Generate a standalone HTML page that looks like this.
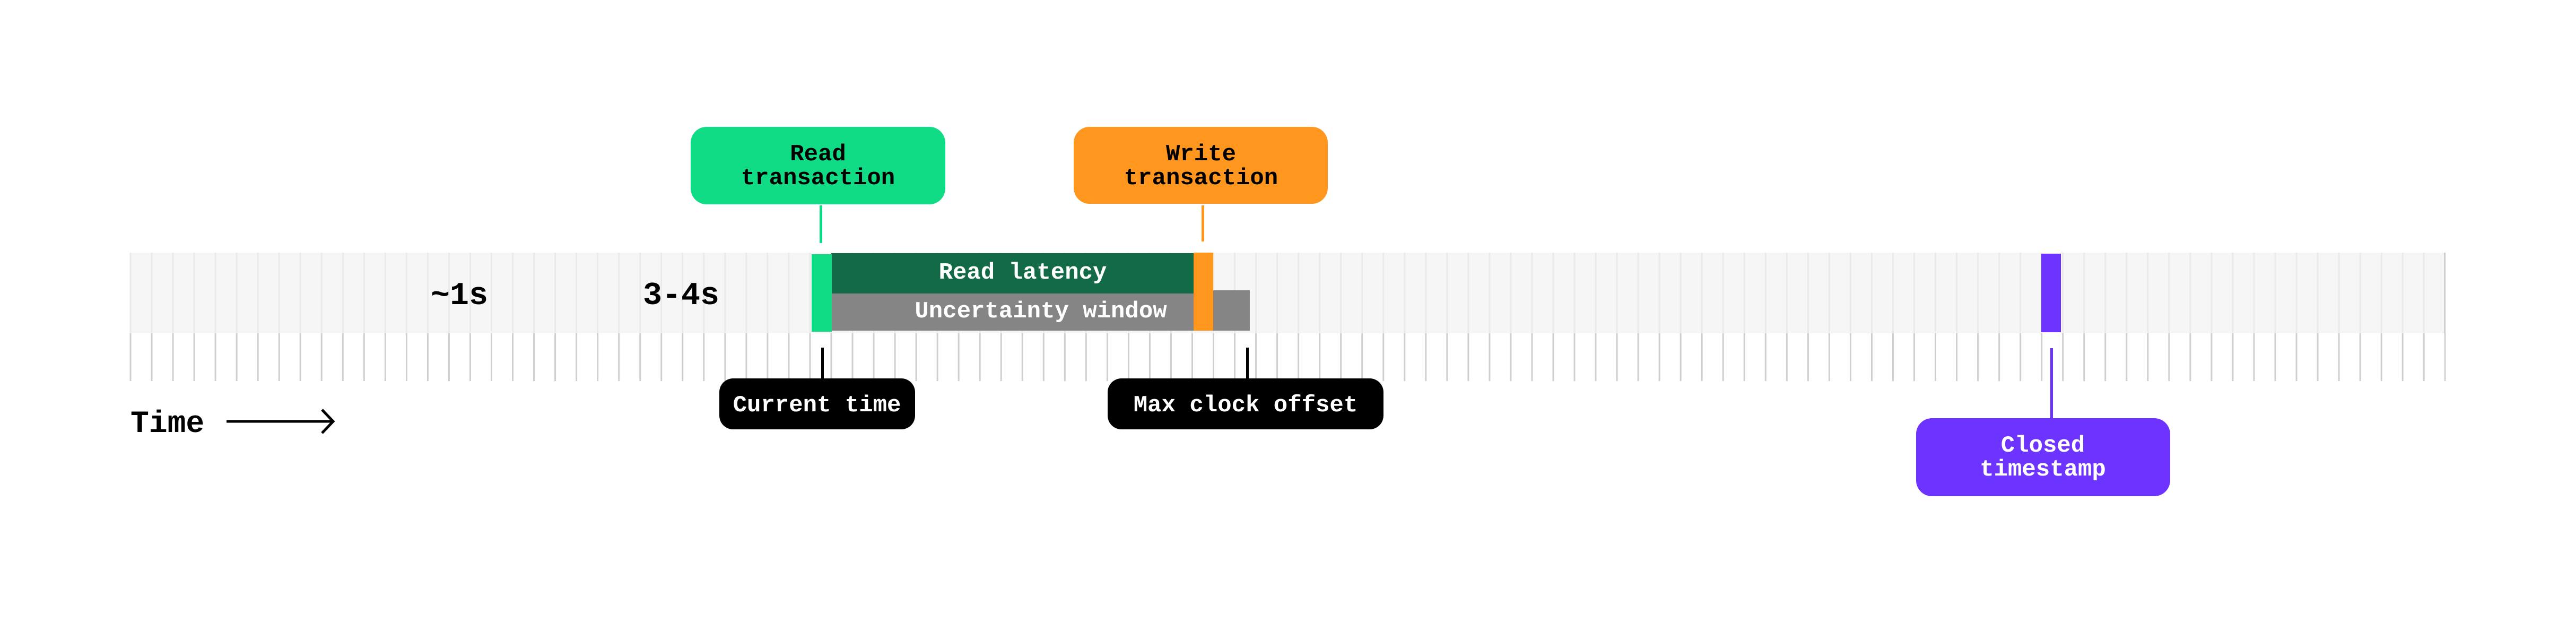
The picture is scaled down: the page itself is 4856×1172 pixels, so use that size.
<!DOCTYPE html>
<html><head><meta charset="utf-8"><style>
html,body{margin:0;padding:0;background:#fff;}
svg{display:block}
text{font-family:"Liberation Mono",monospace;font-weight:bold;}
</style></head><body>
<svg width="4856" height="1172" viewBox="0 0 4856 1172" xmlns="http://www.w3.org/2000/svg">
<defs>
<pattern id="tin" patternUnits="userSpaceOnUse" x="244.5" y="0" width="40.03" height="10">
<rect x="0" y="0" width="3" height="10" fill="#eaeaea"/>
</pattern>
<pattern id="tout" patternUnits="userSpaceOnUse" x="244.5" y="0" width="40.03" height="10">
<rect x="0" y="0" width="3" height="10" fill="#cfcfcf"/>
</pattern>
</defs>
<rect x="0" y="0" width="4856" height="1172" fill="#fff"/>
<rect x="246" y="476" width="4363" height="152" fill="#f6f6f6"/>
<rect x="244.5" y="476" width="4366" height="152" fill="url(#tin)"/>
<rect x="244.5" y="628" width="4366" height="90" fill="url(#tout)"/>
<rect x="4607" y="476" width="3" height="152" fill="#cfcfcf"/>
<!-- bars -->
<rect x="1567" y="477" width="683" height="76" fill="#126b46"/>
<rect x="1567" y="553" width="683" height="70" fill="#858585"/>
<rect x="2287" y="547" width="69" height="76" fill="#858585"/>
<rect x="1530" y="479" width="38" height="146" fill="#10dc86"/>
<rect x="2250" y="476" width="37" height="147" fill="#ff961e"/>
<rect x="3848" y="478" width="37" height="148" fill="#6e34ff"/>
<text x="1928" y="525" font-size="44" fill="#fff" text-anchor="middle">Read latency</text>
<text x="1962" y="598" font-size="44" fill="#fff" text-anchor="middle">Uncertainty window</text>
<text x="866" y="573" font-size="60" fill="#000" text-anchor="middle">~1s</text>
<text x="1284" y="573" font-size="60" fill="#000" text-anchor="middle">3-4s</text>
<!-- Time -->
<text x="246" y="814" font-size="58" fill="#000">Time</text>
<line x1="427" y1="794" x2="627" y2="794" stroke="#000" stroke-width="5"/>
<polyline points="607,772 628,794 607,816" fill="none" stroke="#000" stroke-width="5"/>
<!-- Read transaction -->
<rect x="1302" y="239" width="480" height="146" rx="30" fill="#10dc86"/>
<text x="1542" y="302" font-size="44" fill="#000" text-anchor="middle">Read</text>
<text x="1542" y="347" font-size="44" fill="#000" text-anchor="middle">transaction</text>
<rect x="1545" y="387" width="5" height="71" fill="#10dc86"/>
<!-- Write transaction -->
<rect x="2024" y="239" width="479" height="145" rx="30" fill="#ff961e"/>
<text x="2264" y="302" font-size="44" fill="#000" text-anchor="middle">Write</text>
<text x="2264" y="347" font-size="44" fill="#000" text-anchor="middle">transaction</text>
<rect x="2265" y="387" width="5" height="68" fill="#ff961e"/>
<!-- Current time -->
<rect x="1548" y="655" width="5" height="60" fill="#000"/>
<rect x="1356" y="713" width="369" height="96" rx="26" fill="#000"/>
<text x="1540" y="775" font-size="44" fill="#fff" text-anchor="middle">Current time</text>
<!-- Max clock offset -->
<rect x="2349" y="655" width="5" height="60" fill="#000"/>
<rect x="2088" y="713" width="520" height="96" rx="26" fill="#000"/>
<text x="2348" y="775" font-size="44" fill="#fff" text-anchor="middle">Max clock offset</text>
<!-- Closed timestamp -->
<rect x="3865" y="656" width="5" height="134" fill="#6e34ff"/>
<rect x="3612" y="788" width="479" height="147" rx="30" fill="#6e34ff"/>
<text x="3851" y="851" font-size="44" fill="#fff" text-anchor="middle">Closed</text>
<text x="3851" y="896" font-size="44" fill="#fff" text-anchor="middle">timestamp</text>
</svg>
</body></html>
